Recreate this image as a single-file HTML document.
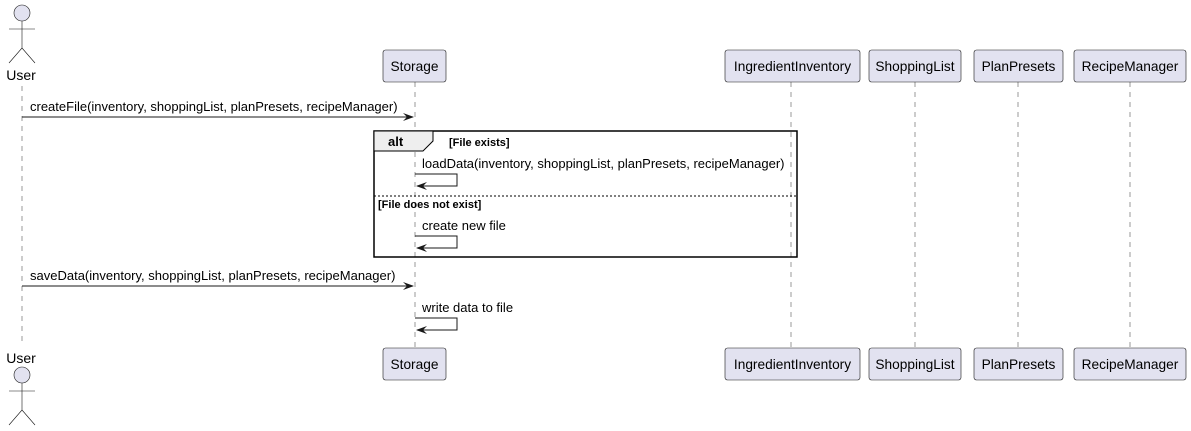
<html><body style="margin:0;background:#fff">
<svg width="1191" height="431" xmlns="http://www.w3.org/2000/svg" font-family="Liberation Sans, sans-serif">
<style>.ll{stroke:#555;stroke-width:0.6;stroke-dasharray:5,5}.box{fill:#E2E2F0;stroke:#181818;stroke-width:0.6}.t{font-size:13px;fill:#000}.bt{font-size:13.7px}.a{stroke:#181818;stroke-width:1;fill:none}.hd{fill:#181818}</style>
<line class="ll" x1="22" y1="86" x2="22" y2="346"/>
<line class="ll" x1="415" y1="82" x2="415" y2="349"/>
<line class="ll" x1="791" y1="82" x2="791" y2="349"/>
<line class="ll" x1="915" y1="82" x2="915" y2="349"/>
<line class="ll" x1="1018" y1="82" x2="1018" y2="349"/>
<line class="ll" x1="1130" y1="82" x2="1130" y2="349"/>
<g class="t" text-anchor="middle">
<g class="bt"><rect class="box" x="383" y="50" width="63" height="32" rx="2.5"/><text x="414.5" y="71">Storage</text></g>
<g class="bt"><rect class="box" x="725" y="50" width="135" height="32" rx="2.5"/><text x="792.5" y="71">IngredientInventory</text></g>
<g class="bt"><rect class="box" x="869" y="50" width="92" height="32" rx="2.5"/><text x="915" y="71">ShoppingList</text></g>
<g class="bt"><rect class="box" x="974" y="50" width="89" height="32" rx="2.5"/><text x="1018.5" y="71">PlanPresets</text></g>
<g class="bt"><rect class="box" x="1074" y="50" width="112" height="32" rx="2.5"/><text x="1130" y="71">RecipeManager</text></g>
<g class="bt"><rect class="box" x="383" y="348" width="63" height="32" rx="2.5"/><text x="414.5" y="369">Storage</text></g>
<g class="bt"><rect class="box" x="725" y="348" width="135" height="32" rx="2.5"/><text x="792.5" y="369">IngredientInventory</text></g>
<g class="bt"><rect class="box" x="869" y="348" width="92" height="32" rx="2.5"/><text x="915" y="369">ShoppingList</text></g>
<g class="bt"><rect class="box" x="974" y="348" width="89" height="32" rx="2.5"/><text x="1018.5" y="369">PlanPresets</text></g>
<g class="bt"><rect class="box" x="1074" y="348" width="112" height="32" rx="2.5"/><text x="1130" y="369">RecipeManager</text></g>
<text x="21" y="80" font-size="14">User</text>
<text x="21" y="363" font-size="14">User</text>
</g>
<g stroke="#181818" stroke-width="0.6" fill="#E2E2F0">
<circle cx="22" cy="13" r="8"/><path d="M22 21V48M9 29H35M9 63L22 48L35 63" fill="none"/>
<circle cx="22" cy="375" r="8"/><path d="M22 383V410M9 391H35M9 425L22 410L35 425" fill="none"/>
</g>
<rect x="374" y="131" width="423" height="126" fill="none" stroke="#000" stroke-width="1.5"/>
<path d="M374 131H433V141L423 151H374Z" fill="#EEEEEE" stroke="#000" stroke-width="1"/>
<text x="388" y="146" font-size="13" font-weight="bold">alt</text>
<text x="449" y="146" font-size="11" font-weight="bold">[File exists]</text>
<line x1="374" y1="196" x2="797" y2="196" stroke="#000" stroke-width="1" stroke-dasharray="2,2"/>
<text x="378" y="208" font-size="11" font-weight="bold">[File does not exist]</text>
<g class="t">
<text x="30" y="111">createFile(inventory, shoppingList, planPresets, recipeManager)</text>
<text x="422" y="168">loadData(inventory, shoppingList, planPresets, recipeManager)</text>
<text x="422" y="230">create new file</text>
<text x="30" y="280">saveData(inventory, shoppingList, planPresets, recipeManager)</text>
<text x="422" y="312">write data to file</text>
</g>
<line class="a" x1="22" y1="117" x2="413" y2="117"/><path class="hd" d="M403 113L414 117L403 121L407 117Z"/>
<line class="a" x1="22" y1="286" x2="413" y2="286"/><path class="hd" d="M403 282L414 286L403 290L407 286Z"/>
<path class="a" d="M415 174H457V186H417"/><path class="hd" d="M427 182L416 186L427 190L423 186Z"/>
<path class="a" d="M415 236H457V248H417"/><path class="hd" d="M427 244L416 248L427 252L423 248Z"/>
<path class="a" d="M415 318H457V330H417"/><path class="hd" d="M427 326L416 330L427 334L423 330Z"/>
</svg>
</body></html>
